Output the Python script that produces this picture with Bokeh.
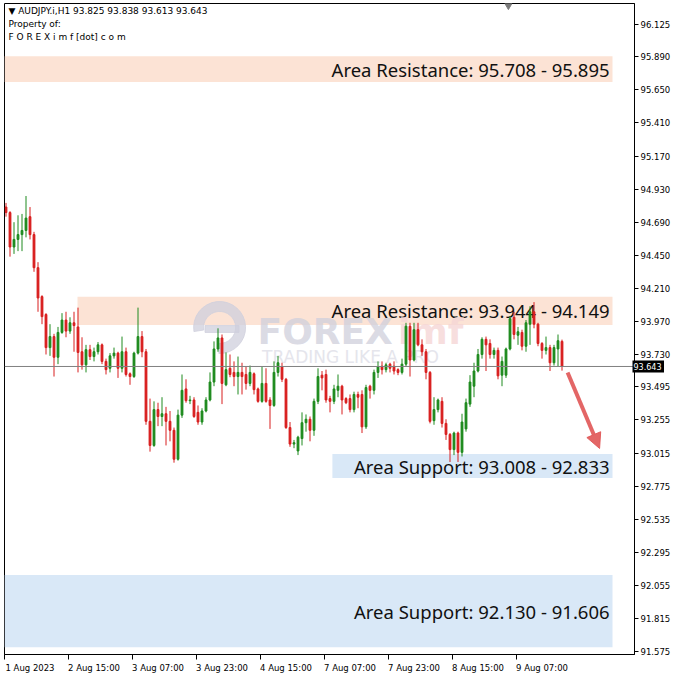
import numpy as np
from bokeh.plotting import figure
from bokeh.models import (ColumnDataSource, FixedTicker, LinearAxis, Span, GridBox,
                          Arrow, NormalHead, Range1d, NumeralTickFormatter)
from bokeh.core.properties import value
from bokeh.embed import file_html
from bokeh.resources import INLINE

# ---------------- data (AUDJPY.i, H1) ----------------
opens = [94.80, 94.76, 94.51, 94.565, 94.60, 94.63, 94.73, 94.60, 94.36, 94.15,
         94.02, 93.78, 93.86, 93.71, 93.89, 93.98, 93.90, 93.96, 93.93, 93.75,
         93.655, 93.765, 93.715, 93.75, 93.80, 93.68, 93.63, 93.72, 93.74, 93.63,
         93.75, 93.59, 93.57, 93.74, 93.86, 93.75, 93.245, 93.07, 93.33, 93.28,
         93.30, 93.245, 93.18, 92.97, 93.29, 93.48, 93.395, 93.40, 93.31, 93.24,
         93.32, 93.40, 93.53, 93.77, 93.85, 93.51, 93.63, 93.60, 93.57, 93.60,
         93.585, 93.52, 93.59, 93.48, 93.39, 93.52, 93.40, 93.36, 93.60, 93.64,
         93.55, 93.20, 93.08, 93.03, 93.12, 93.235, 93.26, 93.18, 93.39, 93.58,
         93.585, 93.41, 93.39, 93.47, 93.50, 93.41, 93.41, 93.33, 93.44, 93.44,
         93.205, 93.50, 93.47, 93.60, 93.645, 93.62, 93.66, 93.645, 93.62, 93.60,
         93.66, 93.935, 93.69, 93.91, 93.80, 93.75, 93.60, 93.25, 93.33, 93.39,
         93.23, 93.15, 93.04, 93.16, 93.02, 93.19, 93.37, 93.50, 93.61, 93.73,
         93.84, 93.81, 93.73, 93.76, 93.58, 93.58, 93.77, 94.00, 93.87, 93.89,
         93.79, 93.95, 94.04, 93.95, 93.81, 93.76, 93.78, 93.67, 93.77, 93.825]
highs = [94.83, 94.77, 94.69, 94.74, 94.75, 94.88, 94.80, 94.62, 94.40, 94.16,
         94.03, 93.95, 93.88, 93.93, 94.03, 94.04, 94.00, 94.04, 94.07, 93.855,
         93.80, 93.80, 93.78, 93.82, 93.81, 93.70, 93.74, 93.78, 93.75, 93.86,
         93.78, 93.60, 93.75, 94.07, 93.90, 93.77, 93.41, 93.39, 93.38, 93.42,
         93.35, 93.32, 93.20, 93.33, 93.585, 93.55, 93.43, 93.42, 93.36, 93.34,
         93.42, 93.60, 93.825, 93.92, 93.875, 93.745, 93.73, 93.68, 93.715, 93.67,
         93.64, 93.65, 93.60, 93.49, 93.64, 93.63, 93.42, 93.68, 93.72, 93.67,
         93.56, 93.24, 93.11, 93.14, 93.31, 93.295, 93.28, 93.41, 93.63, 93.61,
         93.62, 93.43, 93.51, 93.585, 93.51, 93.42, 93.44, 93.46, 93.46, 93.47,
         93.51, 93.51, 93.62, 93.68, 93.68, 93.67, 93.67, 93.68, 93.63, 93.70,
         93.96, 93.96, 93.96, 93.96, 93.84, 93.77, 93.61, 93.42, 93.41, 93.42,
         93.26, 93.16, 93.17, 93.17, 93.30, 93.41, 93.58, 93.67, 93.77, 93.855,
         93.86, 93.84, 93.78, 93.78, 93.715, 93.78, 94.01, 94.04, 93.93, 93.91,
         93.98, 94.08, 94.11, 93.96, 93.82, 93.86, 93.80, 93.80, 93.875, 93.838]
lows = [94.73, 94.44, 94.46, 94.48, 94.48, 94.58, 94.565, 94.33, 94.04, 93.95,
        93.73, 93.72, 93.57, 93.66, 93.88, 93.855, 93.88, 93.75, 93.60, 93.62,
        93.60, 93.69, 93.68, 93.73, 93.66, 93.585, 93.60, 93.70, 93.56, 93.60,
        93.57, 93.51, 93.56, 93.73, 93.71, 93.22, 93.025, 93.06, 93.21, 93.21,
        93.07, 93.10, 92.945, 92.96, 93.27, 93.38, 93.37, 93.27, 93.22, 93.22,
        93.31, 93.39, 93.50, 93.75, 93.37, 93.50, 93.565, 93.50, 93.44, 93.44,
        93.475, 93.50, 93.44, 93.38, 93.38, 93.38, 93.19, 93.35, 93.57, 93.53,
        93.19, 93.06, 93.05, 93.00, 93.07, 93.17, 93.10, 93.14, 93.37, 93.47,
        93.38, 93.31, 93.37, 93.42, 93.295, 93.37, 93.31, 93.31, 93.34, 93.16,
        93.19, 93.41, 93.44, 93.56, 93.585, 93.60, 93.60, 93.585, 93.58, 93.585,
        93.64, 93.57, 93.68, 93.79, 93.72, 93.55, 93.23, 93.22, 93.31, 93.20,
        93.11, 92.95, 93.00, 92.95, 92.99, 93.17, 93.35, 93.42, 93.60, 93.70,
        93.61, 93.70, 93.70, 93.55, 93.50, 93.56, 93.76, 93.84, 93.80, 93.76,
        93.75, 93.80, 93.92, 93.79, 93.70, 93.73, 93.61, 93.65, 93.645, 93.613]
closes = [94.76, 94.51, 94.565, 94.60, 94.63, 94.72, 94.60, 94.36, 94.14, 94.005,
          93.78, 93.86, 93.71, 93.89, 93.98, 93.90, 93.96, 93.94, 93.745, 93.655,
          93.765, 93.715, 93.75, 93.80, 93.68, 93.62, 93.72, 93.74, 93.63, 93.75,
          93.585, 93.57, 93.74, 93.86, 93.75, 93.245, 93.07, 93.33, 93.28, 93.30,
          93.245, 93.18, 92.97, 93.29, 93.47, 93.395, 93.40, 93.28, 93.24, 93.32,
          93.40, 93.53, 93.77, 93.85, 93.52, 93.62, 93.585, 93.57, 93.60, 93.57,
          93.52, 93.60, 93.475, 93.39, 93.52, 93.39, 93.36, 93.60, 93.67, 93.55,
          93.20, 93.08, 93.09, 93.13, 93.235, 93.26, 93.18, 93.39, 93.57, 93.56,
          93.40, 93.39, 93.48, 93.50, 93.40, 93.38, 93.33, 93.44, 93.42, 93.205,
          93.49, 93.47, 93.60, 93.64, 93.62, 93.655, 93.63, 93.61, 93.60, 93.66,
          93.935, 93.69, 93.91, 93.80, 93.75, 93.60, 93.245, 93.33, 93.40, 93.23,
          93.15, 93.04, 93.16, 93.02, 93.24, 93.38, 93.53, 93.61, 93.73, 93.84,
          93.80, 93.73, 93.76, 93.575, 93.68, 93.77, 93.99, 93.875, 93.895, 93.79,
          93.96, 94.04, 93.95, 93.81, 93.76, 93.78, 93.67, 93.78, 93.83, 93.643]

x_tick_bars = [0, 16, 32, 48, 64, 80, 96, 112, 128]
x_tick_labels = ["1 Aug 2023", "2 Aug 15:00", "3 Aug 07:00", "3 Aug 23:00", "4 Aug 15:00",
                 "7 Aug 07:00", "7 Aug 23:00", "8 Aug 15:00", "9 Aug 07:00"]
y_ticks = [96.125, 95.890, 95.650, 95.410, 95.170, 94.930, 94.690, 94.450, 94.210, 93.970,
           93.730, 93.495, 93.255, 93.015, 92.775, 92.535, 92.295, 92.055, 91.815, 91.575]

zone_low = [95.708, 93.944, 92.833, 91.606]
zone_high = [95.895, 94.149, 93.008, 92.130]
zone_text = ["Area Resistance: 95.708 - 95.895", "Area Resistance: 93.944 - 94.149",
             "Area Support: 93.008 - 92.833", "Area Support: 92.130 - 91.606"]
zone_kind = ["res", "res", "sup", "sup"]

last_price = closes[-1]

# ---------------- layout constants ----------------
X0 = -0.375
X1 = 157.125
Y0 = 91.553
Y1 = 96.277
FRAME_W = 630
FRAME_H = 651
zone_left = [X0, 17.875, 81.6, X0]
zone_right = 151.625
BULL = "#1e8a1e"
BEAR = "#d81f1f"
RES_COL = "#fce3d5"
SUP_COL = "#d9e8f7"
SMALL = "DejaVu Sans"

yr = Range1d(Y0, Y1)
p = figure(frame_width=FRAME_W, frame_height=FRAME_H, x_range=Range1d(X0, X1),
           y_range=yr, y_axis_location="right", toolbar_location=None,
           output_backend="svg", min_border_left=4, min_border_top=3,
           min_border_right=36, min_border_bottom=0)
p.xgrid.visible = False
p.ygrid.visible = False
p.outline_line_color = "black"
p.outline_line_width = 1
p.background_fill_color = "white"
p.border_fill_color = "white"

# y axis (right)
ya = p.yaxis[0]
ya.ticker = FixedTicker(ticks=y_ticks)
ya.formatter = NumeralTickFormatter(format="0.000")
ya.axis_line_color = "black"
ya.major_tick_out = 4
ya.major_tick_in = 0
ya.major_tick_line_color = "black"
ya.minor_tick_line_color = None
ya.major_label_standoff = 2
ya.major_label_text_font = SMALL
ya.major_label_text_font_size = "8.5px"
ya.major_label_text_color = "black"

# x axis: tick marks only
xa = p.xaxis[0]
xa.ticker = FixedTicker(ticks=[b - 0.375 for b in x_tick_bars])
xa.axis_line_color = "black"
xa.major_tick_out = 5
xa.major_tick_in = 0
xa.major_tick_line_color = "black"
xa.minor_tick_line_color = None
xa.major_label_text_font_size = "0px"
xa.major_label_text_color = None
xa.major_label_standoff = 0

# x axis: labels that start at their tick
label_pos = [b + 6 for b in x_tick_bars]
xl = LinearAxis(ticker=FixedTicker(ticks=label_pos),
                major_label_overrides={pos: lab for pos, lab in zip(label_pos, x_tick_labels)})
xl.axis_line_color = None
xl.major_tick_line_color = None
xl.minor_tick_line_color = None
xl.major_label_standoff = -3
xl.major_label_text_font = SMALL
xl.major_label_text_font_size = "8.5px"
xl.major_label_text_color = "black"
p.add_layout(xl, "below")

# zones
zsrc = ColumnDataSource(dict(
    left=zone_left, right=[zone_right] * 4, bottom=zone_low, top=zone_high,
    color=[RES_COL if k == "res" else SUP_COL for k in zone_kind],
    mid=[(a + b) / 2 for a, b in zip(zone_low, zone_high)], text=zone_text,
    tx=[150.9] * 4))
p.quad(left="left", right="right", bottom="bottom", top="top", source=zsrc,
       fill_color="color", line_color=None)
p.text(x="tx", y="mid", text="text", source=zsrc, text_align="right",
       text_baseline="middle", text_font=value("Noto Sans"), text_font_size="18.5px",
       text_color="#111111")

# watermark
p.annular_wedge(x=[53.4], y=[93.926], inner_radius=16, outer_radius=26,
                inner_radius_units="screen", outer_radius_units="screen",
                start_angle=-1.6, end_angle=3.3, color="#cfcfdc", alpha=0.75)
p.rect(x=[54.0], y=[93.915], width=8.5, height=0.05, color="#cfcfdc", alpha=0.75)
p.text(x=[62.9], y=[93.897], text=["FOREX"], text_baseline="middle",
       text_font=value("DejaVu Sans"), text_font_style="bold", text_font_size="36px",
       text_color="#cfcfdc", text_alpha=0.75)
p.text(x=[98.0], y=[93.897], text=["imf"], text_baseline="middle",
       text_font=value("DejaVu Sans"), text_font_style="bold", text_font_size="36px",
       text_color="#f5d6d6", text_alpha=0.8)
p.text(x=[64.0], y=[93.709], text=["TRADING LIKE A PRO"], text_baseline="middle",
       text_font=value("DejaVu Sans"), text_font_size="17px", text_color="#e5e5ec")

# current price line
p.add_layout(Span(location=last_price, dimension="width", line_color="#808080", line_width=1))

# candles
idx = np.arange(len(opens))
o = np.array(opens); c = np.array(closes)
cols = [BULL if cc >= oo else BEAR for oo, cc in zip(opens, closes)]
csrc = ColumnDataSource(dict(x=idx, high=highs, low=lows, top=np.maximum(o, c),
                             bottom=np.minimum(o, c), color=cols))
p.segment(x0="x", y0="low", x1="x", y1="high", source=csrc, line_color="color", line_width=1)
p.vbar(x="x", width=0.45, top="top", bottom="bottom", source=csrc,
       fill_color="color", line_color="color", line_width=1)

# arrow
p.add_layout(Arrow(x_start=140.4, y_start=93.600, x_end=148.4, y_end=93.048,
                   line_color="#e05555", line_width=4, line_alpha=0.9,
                   end=NormalHead(size=15, fill_color="#e05555", line_color="#e05555",
                                  fill_alpha=0.9, line_alpha=0.9)))

# small shift marker at top
p.scatter(x=[125.6], y=[96.262], marker="inverted_triangle", size=7,
          color="#7a7a7a")

# header
head = f"\u25bc AUDJPY.i,H1  {opens[-1]:.3f} {highs[-1]:.3f} {lows[-1]:.3f} {closes[-1]:.3f}"
p.text(x=[0.6, 0.6, 0.6], y=[96.219, 96.125, 96.037],
       text=[head, "Property of:", "F O R E X i m f [dot] c o m"],
       text_baseline="middle", text_font=value(SMALL), text_font_size="9px",
       text_color="black")

# ---- transparent overlay figure carrying the current-price tag on the price scale ----
TAG_W = 664
TAG_L = 628
TAG_TEXT_X = 643
q = figure(frame_width=TAG_W, frame_height=FRAME_H, x_range=Range1d(0, TAG_W), y_range=yr,
           x_axis_type=None, y_axis_type=None, toolbar_location=None, output_backend="svg",
           min_border_left=0, min_border_top=3, min_border_right=0, min_border_bottom=0)
q.xgrid.visible = False
q.ygrid.visible = False
q.outline_line_color = None
q.background_fill_alpha = 0
q.border_fill_alpha = 0
half = 6.0 * (Y1 - Y0) / FRAME_H
q.quad(left=[TAG_L], right=[TAG_W], bottom=[last_price - half], top=[last_price + half],
       fill_color="black", line_color=None)
q.text(x=[TAG_TEXT_X], y=[last_price], text=[f"{last_price:.3f}"],
       text_align="center", text_baseline="middle", text_font=value(SMALL),
       text_font_size="8px", text_color="white")

layout = GridBox(children=[(p, 0, 0), (q, 0, 0)])

open("out.html", "w").write(file_html(layout, INLINE))
